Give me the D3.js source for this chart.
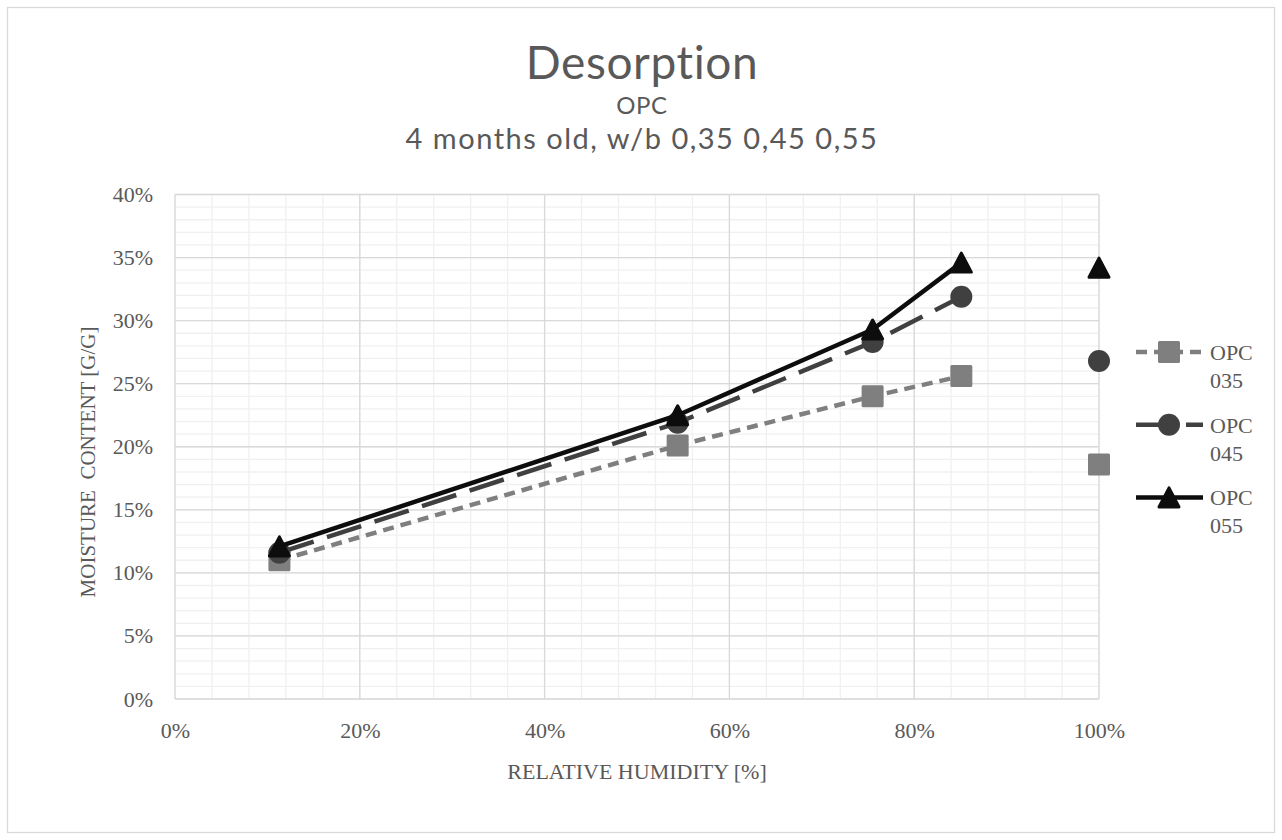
<!DOCTYPE html>
<html>
<head>
<meta charset="utf-8">
<script src="https://cdn.jsdelivr.net/npm/d3@7"></script>
<style>
    body { margin: 0; background: #ffffff; }
    svg { display: block; }
</style>
</head>
<body>
<svg id="chart" width="1282" height="840"></svg>
<script>
    // relative humidity (null = gap in the line, last point stands alone)
    var humidity = [0.113, 0.544, 0.755, 0.851, null, 1.0];

    var opc035 = [0.110, 0.201, 0.240, 0.256, null, 0.186],
        opc045 = [0.116, 0.219, 0.283, 0.319, null, 0.268],
        opc055 = [0.121, 0.225, 0.293, 0.346, null, 0.342];

    var seriesNames = ['OPC 035', 'OPC 045', 'OPC 055'];

    var xTicks = [0, 0.2, 0.4, 0.6, 0.8, 1.0],
        yTicks = [0, 0.05, 0.10, 0.15, 0.20, 0.25, 0.30, 0.35, 0.40];

    var titleLines = ['Desorption', 'OPC', '4 months old, w/b 0,35 0,45 0,55'];

    var svg = d3.select('#chart');

    var x = d3.scaleLinear().domain([0, 1]).range([175, 1099]),
        y = d3.scaleLinear().domain([0, 0.4]).range([699, 194.5]);

    var serif = '"Liberation Serif", "Times New Roman", serif',
        sans = 'Lato, "Open Sans", sans-serif',
        textColor = '#595959';

    // chart border
    svg.append('rect')
        .attr('x', 7.5).attr('y', 7.5)
        .attr('width', 1267).attr('height', 825)
        .attr('fill', '#ffffff')
        .attr('stroke', '#d9d9d9')
        .attr('stroke-width', 1.3);

    // gridlines, minor first then major
    var grid = svg.append('g');
    var minorX = d3.range(0, 1.0001, 0.04),
        minorY = d3.range(0, 0.4001, 0.01);

    grid.selectAll('.minor-x').data(minorX).enter().append('line')
        .attr('x1', function(d) { return x(d); }).attr('x2', function(d) { return x(d); })
        .attr('y1', y(0)).attr('y2', y(0.4))
        .attr('stroke', '#f0f0f0').attr('stroke-width', 1.3);
    grid.selectAll('.minor-y').data(minorY).enter().append('line')
        .attr('x1', x(0)).attr('x2', x(1))
        .attr('y1', function(d) { return y(d); }).attr('y2', function(d) { return y(d); })
        .attr('stroke', '#f0f0f0').attr('stroke-width', 1.3);
    grid.selectAll('.major-x').data(xTicks).enter().append('line')
        .attr('x1', function(d) { return x(d); }).attr('x2', function(d) { return x(d); })
        .attr('y1', y(0)).attr('y2', y(0.4))
        .attr('stroke', '#d9d9d9').attr('stroke-width', 1.3);
    grid.selectAll('.major-y').data(yTicks).enter().append('line')
        .attr('x1', x(0)).attr('x2', x(1))
        .attr('y1', function(d) { return y(d); }).attr('y2', function(d) { return y(d); })
        .attr('stroke', '#d9d9d9').attr('stroke-width', 1.3);

    // axes (labels only)
    var pct = d3.format('.0%');
    var xAxis = svg.append('g')
        .attr('transform', 'translate(0,' + y(0) + ')')
        .call(d3.axisBottom(x).tickValues(xTicks).tickFormat(pct).tickSize(0).tickPadding(23));
    var yAxis = svg.append('g')
        .attr('transform', 'translate(' + x(0) + ',0)')
        .call(d3.axisLeft(y).tickValues(yTicks).tickFormat(pct).tickSize(0).tickPadding(22));

    [xAxis, yAxis].forEach(function(a) {
        a.select('.domain').remove();
        a.selectAll('text')
            .attr('fill', textColor)
            .style('font-family', serif)
            .style('font-size', '22px');
    });

    // axis titles
    svg.append('text')
        .attr('x', (x(0) + x(1)) / 2).attr('y', 779)
        .attr('text-anchor', 'middle')
        .attr('fill', textColor)
        .style('font-family', serif).style('font-size', '22px')
        .text('RELATIVE HUMIDITY [%]');

    svg.append('text')
        .attr('transform', 'translate(95,462) rotate(-90)')
        .attr('text-anchor', 'middle')
        .attr('fill', textColor)
        .style('font-family', serif).style('font-size', '21px')
        .style('white-space', 'pre')
        .text('MOISTURE  CONTENT [G/G]');

    // titles
    var titleSizes = [46, 24, 29],
        titleSpacing = [0.6, 0.6, 1.5],
        titleBase = [79, 114, 149];
    titleLines.forEach(function(t, i) {
        svg.append('text')
            .attr('x', 642).attr('y', titleBase[i])
            .attr('text-anchor', 'middle')
            .attr('fill', textColor)
            .style('font-family', sans)
            .style('font-size', titleSizes[i] + 'px')
            .style('letter-spacing', titleSpacing[i] + 'px')
            .text(t);
    });

    // series
    var styles = [
        { color: '#7f7f7f', dash: '11,7', marker: 'square' },
        { color: '#404040', dash: '36,14', marker: 'circle' },
        { color: '#0d0d0d', dash: null, marker: 'triangle' }
    ];
    var series = [opc035, opc045, opc055].map(function(vals, i) {
        return {
            name: seriesNames[i],
            style: styles[i],
            points: vals.map(function(v, j) { return { x: humidity[j], y: v }; })
        };
    });

    var line = d3.line()
        .defined(function(d) { return d.x !== null && d.y !== null; })
        .x(function(d) { return x(d.x); })
        .y(function(d) { return y(d.y); });

    function drawMarker(g, kind, color) {
        if (kind === 'square') {
            g.append('rect')
                .attr('x', -9.5).attr('y', -9.5).attr('width', 19).attr('height', 19)
                .attr('fill', color).attr('stroke', color)
                .attr('stroke-width', 3).attr('stroke-linejoin', 'round');
        } else if (kind === 'circle') {
            g.append('circle').attr('r', 11)
                .attr('fill', color);
        } else {
            g.append('path')
                .attr('d', 'M0,-9.5L10,9.5L-10,9.5Z')
                .attr('fill', color).attr('stroke', color)
                .attr('stroke-width', 3).attr('stroke-linejoin', 'round');
        }
    }

    series.forEach(function(s) {
        var g = svg.append('g');
        g.append('path')
            .datum(s.points)
            .attr('d', line)
            .attr('fill', 'none')
            .attr('stroke', s.style.color)
            .attr('stroke-width', 4.5)
            .attr('stroke-linejoin', 'round')
            .attr('stroke-dasharray', s.style.dash);

        g.selectAll('.pt')
            .data(s.points.filter(function(d) { return d.x !== null && d.y !== null; }))
            .enter().append('g')
            .attr('transform', function(d) { return 'translate(' + x(d.x) + ',' + y(d.y) + ')'; })
            .each(function() { drawMarker(d3.select(this), s.style.marker, s.style.color); });
    });

    // legend
    var legend = svg.append('g');
    series.forEach(function(s, i) {
        var ly = 352 + i * 72.7;
        var item = legend.append('g').attr('transform', 'translate(1136,' + ly + ')');
        item.append('line')
            .attr('x1', 0).attr('x2', 67)
            .attr('stroke', s.style.color).attr('stroke-width', 4.5)
            .attr('stroke-dasharray', s.style.dash);
        drawMarker(item.append('g').attr('transform', 'translate(33,0)'), s.style.marker, s.style.color);
        var parts = s.name.split(' ');
        item.append('text')
            .attr('x', 74).attr('y', 8)
            .attr('fill', textColor)
            .style('font-family', serif).style('font-size', '22px')
            .text(parts[0]);
        item.append('text')
            .attr('x', 74).attr('y', 36)
            .attr('fill', textColor)
            .style('font-family', serif).style('font-size', '22px')
            .text(parts[1]);
    });
</script>
</body>
</html>
